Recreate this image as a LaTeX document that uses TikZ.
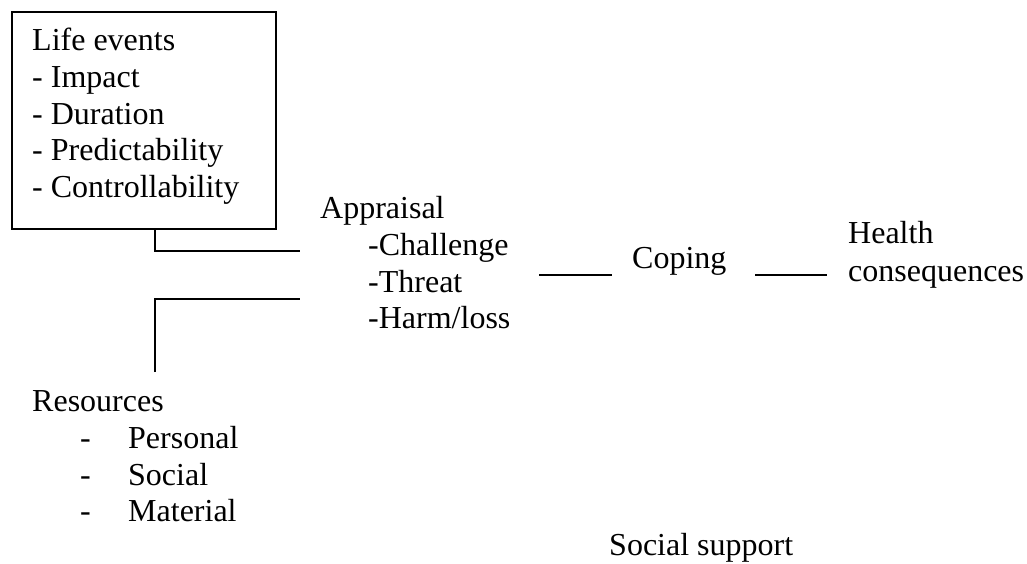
\documentclass[tikz,border=0pt]{standalone}
\usepackage{fontspec}
\setmainfont{Liberation Serif}
\begin{document}
\begin{tikzpicture}[x=1pt,y=-1pt,
  lbl/.style={anchor=base west,inner sep=0pt,font=\fontsize{32}{36.8}\selectfont},
  conn/.style={line width=2pt},
  boxstyle/.style={draw,line width=2pt,anchor=north west,inner sep=0pt,minimum width=264pt,minimum height=217pt}]
\useasboundingbox (0,0) rectangle (1027,564);
% Life events box
\node[boxstyle] (lebox) at (11,11) {};
\node[lbl] (le0) at (32,51) {Life events};
\node[lbl] (le1) at (32,88) {- Impact};
\node[lbl] (le2) at (32,125) {- Duration};
\node[lbl] (le3) at (32,161) {- Predictability};
\node[lbl] (le4) at (32,197) {- Controllability};
% Appraisal
\node[lbl] (ap0) at (320,218) {Appraisal};
\node[lbl] (ap1) at (368,255) {-Challenge};
\node[lbl] (ap2) at (368,292) {-Threat};
\node[lbl] (ap3) at (368,328) {-Harm/loss};
% Coping and health
\node[lbl] (cop) at (632,268) {Coping};
\node[lbl] (hc0) at (848,243) {Health};
\node[lbl] (hc1) at (848,281) {consequences};
% Resources
\node[lbl] (rs0) at (32,411) {Resources};
\node[lbl] (rd1) at (80,448) {-};
\node[lbl] (rs1) at (128,448) {Personal};
\node[lbl] (rd2) at (80,485) {-};
\node[lbl] (rs2) at (128,485) {Social};
\node[lbl] (rd3) at (80,521) {-};
\node[lbl] (rs3) at (128,521) {Material};
% Social support
\node[lbl] (ss) at (609,555) {Social support};
% connectors
\coordinate (b1) at (155,228);
\coordinate (j1) at (300,251);
\coordinate (r1) at (155,372);
\coordinate (j2) at (300,299);
\coordinate (c1) at (539,275);
\coordinate (c2) at (612,275);
\coordinate (h1) at (755,275);
\coordinate (h2) at (827,275);
\draw[conn] (b1) |- (j1);
\draw[conn] (r1) |- (j2);
\draw[conn] (c1) -- (c2);
\draw[conn] (h1) -- (h2);
\end{tikzpicture}
\end{document}
